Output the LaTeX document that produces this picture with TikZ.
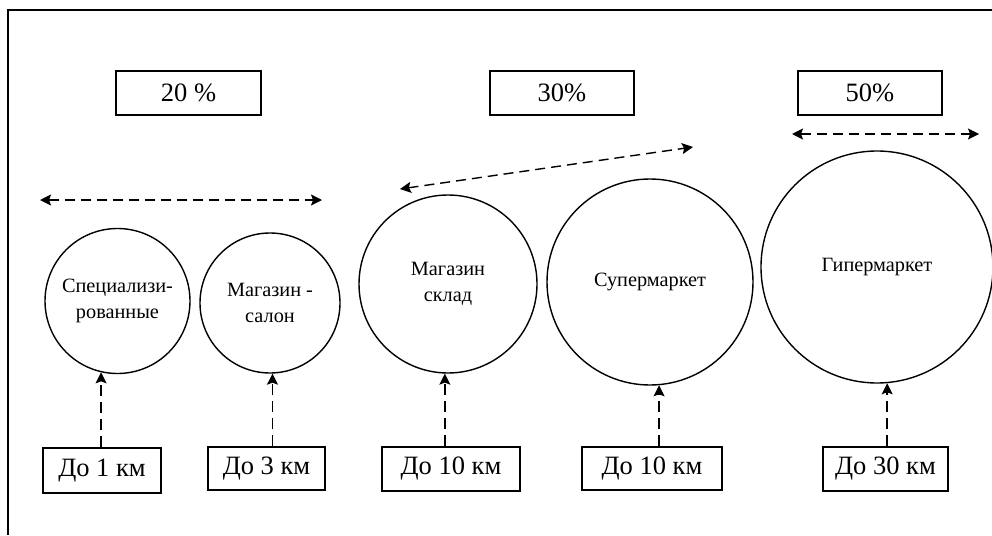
\documentclass[tikz,border=0pt]{standalone}
\usepackage{fontspec}
\setmainfont{Liberation Serif}
\usetikzlibrary{arrows.meta}
\begin{document}
\begin{tikzpicture}[x=1pt,y=-1pt,
  lw/.style={line width=1.4pt},
  tip/.tip={Stealth[length=11pt,width=11pt,inset=2pt]},
  pbox/.style={draw,lw,inner sep=0pt,minimum height=44pt,font=\fontsize{26.5}{30}\selectfont},
  shop/.style={draw,lw,circle,inner sep=0pt,align=center,font=\fontsize{20.3}{26}\selectfont},
  darr/.style={lw,dash pattern=on 10pt off 6pt,tip-tip},
  uarr/.style={lw,dash pattern=on 11pt off 6pt,-tip}]
\useasboundingbox (0,0) rectangle (992,535);
% frame (top and left edges visible)
\coordinate (fl) at (8,535);
\coordinate (fc) at (8,10);
\coordinate (fr) at (992,10);
\draw[lw] (fl) -- (fc) -- (fr);
% percentage boxes
\node[pbox,minimum width=145pt] (p1) at (188.5,93) {20 \%};
\node[pbox,minimum width=144pt] (p2) at (562,93) {30\%};
\node[pbox,minimum width=144pt] (p3) at (870,93) {50\%};
% range arrows
\coordinate (a1l) at (40,200);
\coordinate (a1r) at (322,200);
\coordinate (a2l) at (400,189);
\coordinate (a2r) at (693,147);
\coordinate (a3l) at (792,134);
\coordinate (a3r) at (979,134);
\draw[darr] (a1l) -- (a1r);
\draw[darr] (a2l) -- (a2r);
\draw[darr] (a3l) -- (a3r);
% shops
\node[shop,minimum size=145pt] (c1) at (117.5,301) {Специализи-\\рованные};
\node[shop,minimum size=140pt] (c2) at (270,303) {Магазин -\\салон};
\node[shop,minimum size=178pt] (c3) at (448,284) {Магазин\\склад};
\node[shop,minimum size=206pt] (c4) at (650,282) {Супермаркет};
\node[shop,minimum size=232pt] (c5) at (877,267) {Гипермаркет};
% distance boxes
\node[pbox,minimum width=118pt,minimum height=45pt] (b1) at (102,470.5) {До 1 км};
\node[pbox,minimum width=117pt,minimum height=43pt] (b2) at (266.5,468.5) {До 3 км};
\node[pbox,minimum width=138pt] (b3) at (451,469) {До 10 км};
\node[pbox,minimum width=140pt,minimum height=43pt] (b4) at (652,468.5) {До 10 км};
\node[pbox,minimum width=125pt] (b5) at (885.5,469) {До 30 км};
% connectors
\draw[uarr] (b1.north -| c1.257.7) -- (c1.257.7);
\draw[uarr] (b2.north -| c2.272.5) -- (c2.272.5);
\draw[uarr] (b3.north -| c3.268) -- (c3.268);
\draw[uarr] (b4.north -| c4.275) -- (c4.275);
\draw[uarr] (b5.north -| c5.275.4) -- (c5.275.4);
\end{tikzpicture}
\end{document}
